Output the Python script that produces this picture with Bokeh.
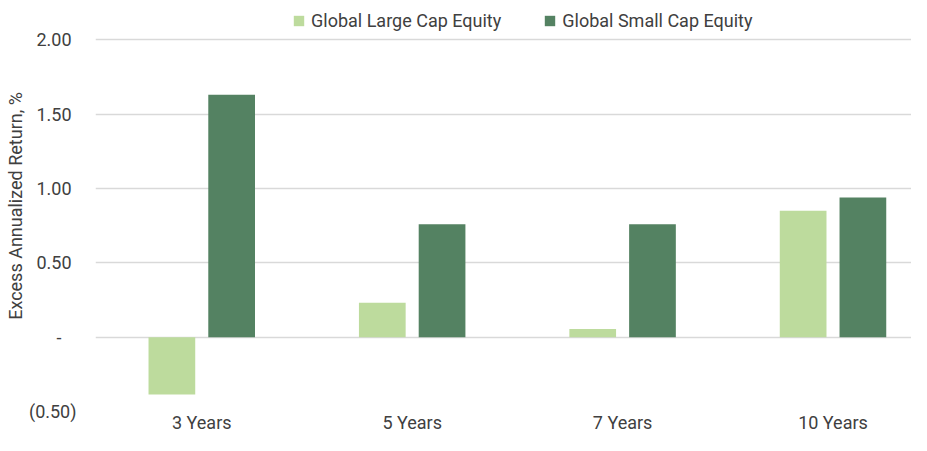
from bokeh.plotting import figure
from bokeh.models import ColumnDataSource, Range1d, FixedTicker, Legend, LegendItem
from bokeh.transform import dodge
from bokeh.embed import file_html
from bokeh.resources import INLINE

categories = ["3 Years", "5 Years", "7 Years", "10 Years"]
large_cap = [-0.385, 0.232, 0.054, 0.85]
small_cap = [1.63, 0.76, 0.76, 0.94]
series_names = ["Global Large Cap Equity", "Global Small Cap Equity"]
y_ticks = [-0.5, 0.0, 0.5, 1.0, 1.5, 2.0]
y_tick_labels = ["(0.50)", "-", "0.50", "1.00", "1.50", "2.00"]
y_title = "Excess Annualized Return, %"

FONT = "Roboto"
FS = "18px"
TEXT = "#404040"
LIGHT = "#BDDB9D"
DARK = "#548262"
GRID = "#D9D9D9"

xs = list(range(len(categories)))
src = ColumnDataSource(dict(x=xs, large=large_cap, small=small_cap))

p = figure(width=911, height=435, output_backend="svg", toolbar_location=None,
           x_range=Range1d(-0.505, 3.373), y_range=Range1d(-0.5, 2.264),
           min_border_left=95, min_border_right=0, min_border_top=0, min_border_bottom=24)
p.outline_line_color = None
p.background_fill_color = "white"

r1 = p.vbar(x=dodge("x", -0.142, range=p.x_range), top="large", width=0.222, source=src,
            fill_color=LIGHT, line_color=None)
r2 = p.vbar(x=dodge("x", 0.142, range=p.x_range), top="small", width=0.222, source=src,
            fill_color=DARK, line_color=None)

# x axis
p.xaxis.ticker = FixedTicker(ticks=xs)
p.xaxis.major_label_overrides = {i: c for i, c in zip(xs, categories)}
p.xaxis.axis_line_color = None
p.xaxis.major_tick_line_color = None
p.xaxis.minor_tick_line_color = None
p.xaxis.major_tick_out = 0
p.xaxis.major_tick_in = 0
p.xaxis.major_label_standoff = 0
p.xaxis.major_label_text_font = FONT
p.xaxis.major_label_text_font_size = FS
p.xaxis.major_label_text_color = TEXT
p.xgrid.grid_line_color = None

# y axis
pads = {"-": "\u2007\u2008"}
p.yaxis.ticker = FixedTicker(ticks=y_ticks)
p.yaxis.major_label_overrides = {
    t: (l + pads.get(l, "") if l.startswith("(") else l + pads.get(l, "\u2008"))
    for t, l in zip(y_ticks, y_tick_labels)}
p.yaxis.axis_line_color = None
p.yaxis.major_tick_line_color = None
p.yaxis.minor_tick_line_color = None
p.yaxis.major_tick_out = 0
p.yaxis.major_tick_in = 0
p.yaxis.major_label_standoff = 19
p.yaxis.major_label_text_font = FONT
p.yaxis.major_label_text_font_size = FS
p.yaxis.major_label_text_color = TEXT
p.yaxis.axis_label = y_title
p.yaxis.axis_label_standoff = 0
p.yaxis.axis_label_text_line_height = 1.0
p.yaxis.axis_label_text_font = FONT
p.yaxis.axis_label_text_font_size = FS
p.yaxis.axis_label_text_font_style = "normal"
p.yaxis.axis_label_text_color = TEXT
p.ygrid.ticker = FixedTicker(ticks=y_ticks)
p.ygrid.grid_line_color = GRID
p.ygrid.grid_line_width = 1.5

legend = Legend(items=[LegendItem(label=series_names[0], renderers=[r1]),
                       LegendItem(label=series_names[1], renderers=[r2])],
                location=(197, 380.5), orientation="horizontal",
                glyph_width=13, glyph_height=13, label_standoff=6, spacing=42,
                padding=0, margin=0, border_line_color=None, background_fill_alpha=0,
                label_text_font=FONT, label_text_font_size=FS, label_text_color=TEXT)
p.add_layout(legend, "center")

open("out.html", "w").write(file_html(p, INLINE))
